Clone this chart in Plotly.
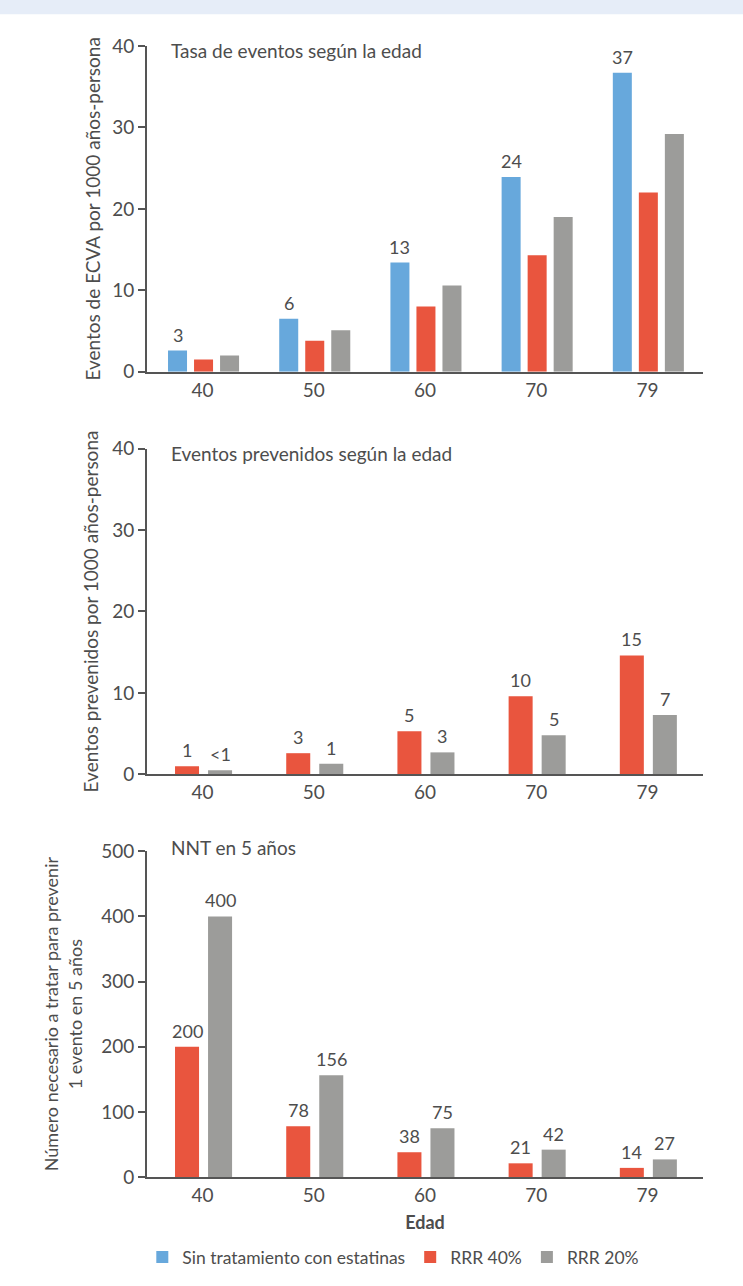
import plotly.graph_objects as go

# ============================================================================
# Data
# ============================================================================

edades = ['40', '50', '60', '70', '79']

# Panel 1: tasa de eventos por 1000 años-persona
tasa_sin = [2.6, 6.5, 13.4, 23.9, 36.7]
tasa_rrr40 = [1.5, 3.8, 8.0, 14.3, 22.0]
tasa_rrr20 = [2.0, 5.1, 10.6, 19.0, 29.2]
tasa_sin_txt = ['3', '6', '13', '24', '37']

# Panel 2: eventos prevenidos por 1000 años-persona
prev_rrr40 = [1.0, 2.6, 5.3, 9.6, 14.6]
prev_rrr20 = [0.5, 1.3, 2.7, 4.8, 7.3]
prev_rrr40_txt = ['1', '3', '5', '10', '15']
prev_rrr20_txt = ['<1', '1', '3', '5', '7']

# Panel 3: NNT en 5 años
nnt_rrr40 = [200, 78, 38, 21, 14]
nnt_rrr20 = [400, 156, 75, 42, 27]

# ============================================================================
# Styles
# ============================================================================

AZUL = '#67a8dc'
ROJO = '#e9553e'
GRIS = '#9c9c9a'
TEXTO = '#4d4d4d'
EJE = '#555555'
FUENTE = 'Lato, Noto Sans, sans-serif'

PLOT_W = 556          # width of the plotting area in px
CAT_PX = PLOT_W / 5   # px per age category

fig = go.Figure()


def add_bar(fig, y, name, color, n, width, offset, text=None, showlegend=False):
    """Add one bar series to panel n, with its value labels as annotations"""
    xa = 'x' if n == 1 else f'x{n}'
    ya = 'y' if n == 1 else f'y{n}'
    fig.add_trace(go.Bar(
        x=edades, y=y, name=name,
        marker=dict(color=color, line=dict(width=0)),
        width=width, offset=offset,
        xaxis=xa, yaxis=ya,
        showlegend=showlegend,
        legendgroup=name,
        hoverinfo='x+y',
    ))
    if text is not None:
        # category axes take the serial index of the category for annotations
        for i, (yv, t) in enumerate(zip(y, text)):
            fig.add_annotation(
                x=i, y=yv, xref=xa, yref=ya, text=t, showarrow=False,
                xanchor='center', yanchor='bottom',
                xshift=(offset + width / 2) * CAT_PX, yshift=3,
                font=dict(size=18, color=TEXTO, family=FUENTE),
            )


# Panel 1 (three bars per group)
add_bar(fig, tasa_sin, 'Sin tratamiento con estatinas', AZUL, 1, 0.171, -0.311, tasa_sin_txt, True)
add_bar(fig, tasa_rrr40, 'RRR 40%', ROJO, 1, 0.171, -0.077, None, True)
add_bar(fig, tasa_rrr20, 'RRR 20%', GRIS, 1, 0.171, 0.157, None, True)

# Panel 2 (two bars per group)
add_bar(fig, prev_rrr40, 'RRR 40%', ROJO, 2, 0.216, -0.248, prev_rrr40_txt)
add_bar(fig, prev_rrr20, 'RRR 20%', GRIS, 2, 0.216, 0.049, prev_rrr20_txt)

# Panel 3
add_bar(fig, nnt_rrr40, 'RRR 40%', ROJO, 3, 0.216, -0.248, [str(v) for v in nnt_rrr40])
add_bar(fig, nnt_rrr20, 'RRR 20%', GRIS, 3, 0.216, 0.049, [str(v) for v in nnt_rrr20])

# ============================================================================
# Layout
# ============================================================================

xaxis_common = dict(
    type='category', range=[-0.5, 4.5],
    showline=True, linecolor=EJE, linewidth=2,
    ticks='', showgrid=False, zeroline=False,
    tickfont=dict(size=19, color=TEXTO, family=FUENTE),
)
yaxis_common = dict(
    showline=True, linecolor=EJE, linewidth=2,
    ticks='outside', ticklen=7, tickwidth=2, tickcolor=EJE,
    showgrid=False, zeroline=False,
    tickfont=dict(size=19, color=TEXTO, family=FUENTE),
)

fig.update_layout(
    width=743, height=1286,
    margin=dict(l=147, r=40, t=46, b=108),
    plot_bgcolor='white', paper_bgcolor='white',
    font=dict(family=FUENTE, color=TEXTO),
    barmode='group',
    xaxis=dict(**xaxis_common, anchor='y'),
    xaxis2=dict(**xaxis_common, anchor='y2'),
    xaxis3=dict(**xaxis_common, anchor='y3',
                title=dict(text='<b>Edad</b>', font=dict(size=18, color=TEXTO, family=FUENTE), standoff=12)),
    yaxis=dict(**yaxis_common, domain=[0.712, 1.0], range=[0, 40], dtick=10,
               title=dict(text='Eventos de ECVA por 1000 años-persona',
                          font=dict(size=19, color=TEXTO, family=FUENTE), standoff=6)),
    yaxis2=dict(**yaxis_common, domain=[0.356, 0.644], range=[0, 40], dtick=10,
                title=dict(text='Eventos prevenidos por 1000 años-persona',
                           font=dict(size=19, color=TEXTO, family=FUENTE), standoff=9)),
    yaxis3=dict(**yaxis_common, domain=[0.0, 0.288], range=[0, 500], dtick=100,
                title=dict(text='Número necesario a tratar para prevenir<br>1 evento en 5 años',
                           font=dict(size=18, color=TEXTO, family=FUENTE), standoff=14)),
    legend=dict(
        orientation='h', x=0.443, xanchor='center', y=-0.07, yanchor='middle',
        font=dict(size=17.5, color=TEXTO, family=FUENTE),
        traceorder='normal', itemclick=False,
    ),
    showlegend=True,
)

# Panel titles
for n, texto, ypos in [(1, 'Tasa de eventos según la edad', 0.985),
                       (2, 'Eventos prevenidos según la edad', 0.985),
                       (3, 'NNT en 5 años', 1.012)]:
    sfx = '' if n == 1 else str(n)
    fig.add_annotation(
        text=texto, xref=f'x{sfx} domain', yref=f'y{sfx} domain', x=0.04, y=ypos,
        xanchor='left', yanchor='middle', showarrow=False,
        font=dict(size=19, color=TEXTO, family=FUENTE),
    )

# Light blue band at the top of the page
fig.add_shape(type='rect', xref='paper', yref='paper',
              x0=-0.27, x1=1.08, y0=1.028, y1=1.045,
              fillcolor='#e6edf8', line=dict(width=0), layer='below')

fig.write_html("out.html", config={'displayModeBar': False},
               post_script="document.body.style.margin='0px';")
